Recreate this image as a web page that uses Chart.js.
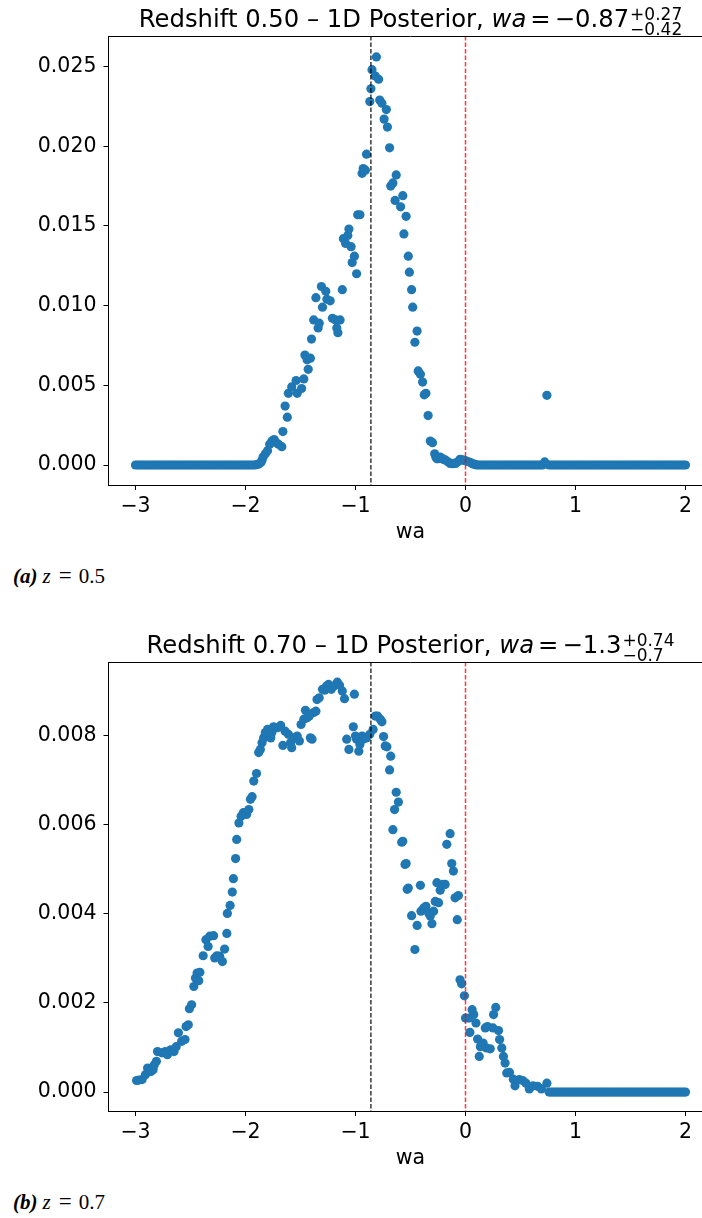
<!DOCTYPE html>
<html>
<head>
<meta charset="utf-8">
<script src="https://cdn.jsdelivr.net/npm/chart.js@4.4.1/dist/chart.umd.min.js"></script>
<style>
body { margin: 0; width: 702px; height: 1218px; overflow: hidden; background: #fff; position: relative; }
canvas { position: absolute; left: 0; }
#c1 { top: 0; }
#c2 { top: 626px; }
.cap { position: absolute; left: 13px; font-family: "Liberation Serif", serif; font-size: 21px; color: #000; white-space: nowrap; }
.cap .eq { margin: 0 7px 0 8px; font-size: 23px; }
.cap .z { margin-left: 5px; }
</style>
</head>
<body>
<canvas id="c1" width="730" height="545"></canvas>
<div class="cap" style="top:563px"><b><i>(a)</i></b><i class="z">z</i><span class="eq">=</span>0.5</div>
<canvas id="c2" width="730" height="545"></canvas>
<div class="cap" style="top:1189px"><b><i>(b)</i></b><i class="z">z</i><span class="eq">=</span>0.7</div>
<script>
// shared axis ticks
var xTicks = [-3, -2, -1, 0, 1, 2];
var yTicksA = [0, 0.005, 0.010, 0.015, 0.020, 0.025];
var yTicksB = [0, 0.002, 0.004, 0.006, 0.008];

// z = 0.5 : points off the zero baseline
var waA = [-1.90, -1.88, -1.86, -1.85, -1.84, -1.82, -1.80, -1.78, -1.76, -1.74, -1.72, -1.70, -1.67, -1.66, -1.64, -1.62, -1.61, -1.58, -1.54, -1.53,
  -1.49, -1.47, -1.46, -1.44, -1.43, -1.41, -1.40, -1.38, -1.36, -1.34, -1.33, -1.31, -1.30, -1.27, -1.26, -1.23, -1.21, -1.18, -1.17, -1.16,
  -1.14, -1.12, -1.11, -1.09, -1.07, -1.06, -1.04, -1.03, -1.01, -0.99, -0.98, -0.96, -0.94, -0.93, -0.91, -0.90, -0.87, -0.86, -0.85, -0.82,
  -0.81, -0.79, -0.78, -0.76, -0.74, -0.72, -0.71, -0.69, -0.68, -0.66, -0.64, -0.63, -0.59, -0.57, -0.56, -0.54, -0.52, -0.51, -0.49, -0.48,
  -0.46, -0.44, -0.43, -0.41, -0.39, -0.375, -0.36, -0.34, -0.32, -0.30, -0.28, -0.27, -0.26, -0.25, -0.23, -0.21, -0.20, -0.18, -0.16, -0.14,
  -0.12, -0.11, -0.09, -0.07, -0.05, -0.03, -0.02, 0.00, 0.02, 0.04, 0.06, 0.07, 0.09, 0.72, 0.74];
var postA = [0.00002, 0.00006, 0.00015, 0.0003, 0.0005, 0.0007, 0.0009, 0.0013, 0.0015, 0.0016, 0.0014, 0.0013, 0.00115, 0.0021, 0.0037, 0.0030, 0.0045, 0.0049, 0.0053, 0.0045,
  0.0048, 0.0054, 0.0069, 0.0066, 0.0060, 0.0067, 0.0079, 0.0091, 0.0105, 0.0086, 0.0089, 0.0112, 0.0099, 0.0109, 0.0104, 0.0103, 0.0092, 0.0091, 0.0086, 0.0083,
  0.0091, 0.0110, 0.0142, 0.0139, 0.0144, 0.0148, 0.0137, 0.0127, 0.0131, 0.0120, 0.0157, 0.0157, 0.0183, 0.0186, 0.0185, 0.0195, 0.0228, 0.0236, 0.0248, 0.0244,
  0.0256, 0.0242, 0.0229, 0.0227, 0.0217, 0.0223, 0.0212, 0.0199, 0.0175, 0.0177, 0.0166, 0.0182, 0.0162, 0.0169, 0.0145, 0.0156, 0.0131, 0.0121, 0.0110, 0.0099,
  0.0077, 0.0084, 0.0059, 0.0057, 0.0052, 0.0044, 0.0045, 0.0031, 0.0015, 0.0014, 0.0007, 0.0005, 0.0004, 0.0004, 0.0005, 0.0004, 0.00035, 0.0003, 0.0002, 0.0001,
  0.00008, 0.0001, 0.0001, 0.0002, 0.00036, 0.00032, 0.0003, 0.00027, 0.00022, 0.00017, 0.0001, 0.00006, 0.00004, 0.00019, 0.00437];
// z = 0.5 : points sitting on zero
var flatA = [-3.00, -2.98, -2.96, -2.94, -2.92, -2.90, -2.88, -2.86, -2.84, -2.82, -2.80, -2.78, -2.76, -2.74, -2.72, -2.70, -2.68, -2.66, -2.64, -2.62,
  -2.60, -2.58, -2.56, -2.54, -2.52, -2.50, -2.48, -2.46, -2.44, -2.42, -2.40, -2.38, -2.36, -2.34, -2.32, -2.30, -2.28, -2.26, -2.24, -2.22,
  -2.20, -2.18, -2.16, -2.14, -2.12, -2.10, -2.08, -2.06, -2.04, -2.02, -2.00, -1.98, -1.96, -1.94, -1.92,
  0.10, 0.12, 0.14, 0.16, 0.18, 0.20, 0.22, 0.24, 0.26, 0.28, 0.30, 0.32, 0.34, 0.36, 0.38, 0.40, 0.42, 0.44, 0.46, 0.48,
  0.50, 0.52, 0.54, 0.56, 0.58, 0.60, 0.62, 0.64, 0.66, 0.68, 0.70, 0.76, 0.78, 0.80, 0.82, 0.84, 0.86, 0.88, 0.90, 0.92,
  0.94, 0.96, 0.98, 1.00, 1.02, 1.04, 1.06, 1.08, 1.10, 1.12, 1.14, 1.16, 1.18, 1.20, 1.22, 1.24, 1.26, 1.28, 1.30, 1.32,
  1.34, 1.36, 1.38, 1.40, 1.42, 1.44, 1.46, 1.48, 1.50, 1.52, 1.54, 1.56, 1.58, 1.60, 1.62, 1.64, 1.66, 1.68, 1.70, 1.72,
  1.74, 1.76, 1.78, 1.80, 1.82, 1.84, 1.86, 1.88, 1.90, 1.92, 1.94, 1.96, 1.98, 2.00];

// z = 0.7 : points off the zero baseline
var waB = [-2.99, -2.97, -2.94, -2.91, -2.89, -2.86, -2.84, -2.83, -2.81, -2.80, -2.76, -2.73, -2.71, -2.68, -2.65, -2.63, -2.61, -2.58, -2.55, -2.54,
  -2.52, -2.51, -2.49, -2.47, -2.455, -2.44, -2.425, -2.415, -2.385, -2.36, -2.34, -2.325, -2.29, -2.28, -2.26, -2.235, -2.21, -2.19, -2.17, -2.165,
  -2.14, -2.12, -2.11, -2.09, -2.08, -2.06, -2.04, -2.02, -1.99, -1.97, -1.955, -1.94, -1.925, -1.90, -1.88, -1.865, -1.85, -1.835, -1.82, -1.80,
  -1.77, -1.76, -1.745, -1.71, -1.68, -1.66, -1.64, -1.61, -1.59, -1.58, -1.56, -1.53, -1.51, -1.495, -1.47, -1.455, -1.44, -1.42, -1.41, -1.395,
  -1.38, -1.36, -1.35, -1.33, -1.30, -1.28, -1.265, -1.245, -1.22, -1.20, -1.165, -1.145, -1.12, -1.10, -1.08, -1.06, -1.02, -1.01, -1.00, -0.99,
  -0.97, -0.96, -0.94, -0.93, -0.90, -0.87, -0.84, -0.82, -0.80, -0.775, -0.76, -0.745, -0.73, -0.715, -0.69, -0.68, -0.66, -0.645, -0.63, -0.61,
  -0.58, -0.57, -0.55, -0.54, -0.53, -0.52, -0.49, -0.46, -0.44, -0.41, -0.405, -0.38, -0.36, -0.335, -0.32, -0.305, -0.29, -0.275, -0.26, -0.245,
  -0.23, -0.205, -0.185, -0.17, -0.14, -0.125, -0.11, -0.095, -0.075, -0.065, -0.05, -0.035, -0.01, 0.00, 0.03, 0.04, 0.06, 0.075, 0.095, 0.11,
  0.125, 0.135, 0.16, 0.18, 0.19, 0.20, 0.225, 0.25, 0.255, 0.275, 0.30, 0.31, 0.33, 0.345, 0.36, 0.375, 0.40, 0.435, 0.45, 0.49,
  0.52, 0.55, 0.58, 0.615, 0.655, 0.69, 0.74];
var postB = [0.00026, 0.00027, 0.00028, 0.00039, 0.00054, 0.00046, 0.00050, 0.00061, 0.00069, 0.00091, 0.00088, 0.00091, 0.00084, 0.00095, 0.00091, 0.00102, 0.00133, 0.00114, 0.00118, 0.00147,
  0.00151, 0.00187, 0.00196, 0.00237, 0.00256, 0.00267, 0.00250, 0.00269, 0.00306, 0.00342, 0.00327, 0.00350, 0.00351, 0.00301, 0.00306, 0.00305, 0.00293, 0.00321, 0.00356, 0.00401,
  0.00419, 0.00449, 0.00479, 0.00524, 0.00567, 0.00604, 0.00619, 0.00627, 0.00623, 0.00634, 0.00657, 0.00663, 0.00698, 0.00715, 0.00762, 0.00769, 0.00784, 0.00795, 0.00807, 0.00814,
  0.00795, 0.00807, 0.00820, 0.00818, 0.00823, 0.00778, 0.00810, 0.00803, 0.00784, 0.00773, 0.00795, 0.00799, 0.00788, 0.00825, 0.00837, 0.00857, 0.00840, 0.00844, 0.00795, 0.00792,
  0.00852, 0.00855, 0.00881, 0.00885, 0.00904, 0.00902, 0.00911, 0.00915, 0.00904, 0.00911, 0.00920, 0.00913, 0.00900, 0.00883, 0.00792, 0.00769, 0.00820, 0.00893, 0.00799, 0.00792,
  0.00765, 0.00780, 0.00799, 0.00792, 0.00795, 0.00803, 0.00814, 0.00844, 0.00844, 0.00837, 0.00831, 0.00798, 0.00777, 0.00775, 0.00723, 0.00754, 0.00589, 0.00634, 0.00673, 0.00651,
  0.00561, 0.00563, 0.00511, 0.00513, 0.00455, 0.00458, 0.00396, 0.00320, 0.00374, 0.00464, 0.00406, 0.00413, 0.00417, 0.00402, 0.00395, 0.00378, 0.00406, 0.00428, 0.00470, 0.00425,
  0.00453, 0.00466, 0.00466, 0.00556, 0.00580, 0.00513, 0.00496, 0.00436, 0.00387, 0.00441, 0.00252, 0.00243, 0.00216, 0.00166, 0.00166, 0.00134, 0.00185, 0.00174, 0.00155, 0.00119,
  0.00080, 0.00102, 0.00110, 0.00144, 0.00099, 0.00147, 0.00097, 0.00144, 0.00174, 0.00190, 0.00138, 0.00118, 0.00099, 0.00080, 0.00065, 0.00043, 0.00044, 0.00029, 0.00014, 0.00028,
  0.00026, 0.00020, 0.00007, 0.00014, 0.00013, 0.00007, 0.00020];
// z = 0.7 : points sitting on zero
var flatB = [0.76, 0.78, 0.80, 0.82, 0.84, 0.86, 0.88, 0.90, 0.92, 0.94, 0.96, 0.98, 1.00, 1.02, 1.04, 1.06, 1.08, 1.10, 1.12, 1.14,
  1.16, 1.18, 1.20, 1.22, 1.24, 1.26, 1.28, 1.30, 1.32, 1.34, 1.36, 1.38, 1.40, 1.42, 1.44, 1.46, 1.48, 1.50, 1.52, 1.54,
  1.56, 1.58, 1.60, 1.62, 1.64, 1.66, 1.68, 1.70, 1.72, 1.74, 1.76, 1.78, 1.80, 1.82, 1.84, 1.86, 1.88, 1.90, 1.92, 1.94,
  1.96, 1.98, 2.00];

var FONT = '"DejaVu Sans"';
var BLUE = '#1f77b4';

function fmtX(v) {
	return v < 0 ? '\u2212' + Math.abs(v) : String(v);
}

// matplotlib style title with stacked super/subscript
var titlePlugin = {
	id: 'mplTitle',
	afterDraw: function(chart, args, o) {
		var ctx = chart.ctx, a = chart.chartArea;
		var big = '24.3px ' + FONT, ital = 'italic 24.3px ' + FONT, small = '17px ' + FONT;
		ctx.save();
		ctx.fillStyle = '#000';
		ctx.textBaseline = 'alphabetic';
		ctx.textAlign = 'left';
		ctx.font = big;
		var w1 = ctx.measureText(o.main).width;
		var wEq = ctx.measureText('=').width;
		var wVal = ctx.measureText(o.value).width;
		ctx.font = ital;
		var wWa = ctx.measureText('wa').width;
		ctx.font = small;
		var wScr = Math.max(ctx.measureText(o.sup).width, ctx.measureText(o.sub).width);
		var gap = 4;
		var total = w1 + wWa + gap + wEq + gap + wVal + 1 + wScr;
		var x = (a.left + a.right) / 2 - total / 2;
		var base = a.top - 9.3;
		ctx.font = big; ctx.fillText(o.main, x, base); x += w1;
		ctx.font = ital; ctx.fillText('wa', x, base); x += wWa + gap;
		ctx.font = big; ctx.fillText('=', x, base); x += wEq + gap;
		ctx.fillText(o.value, x, base); x += wVal + 1;
		ctx.font = small;
		ctx.fillText(o.sup, x, base - 7);
		ctx.fillText(o.sub, x, base + 8);
		ctx.restore();
	}
};

// axvlines and the top spine
var linesPlugin = {
	id: 'vlines',
	afterDatasetsDraw: function(chart, args, o) {
		var ctx = chart.ctx, a = chart.chartArea, xs = chart.scales.x;
		ctx.save();
		ctx.lineWidth = 1.5;
		ctx.setLineDash([4.5, 2]);
		o.lines.forEach(function(l) {
			var px = xs.getPixelForValue(l.v);
			ctx.strokeStyle = l.c;
			ctx.beginPath();
			ctx.moveTo(px, a.top);
			ctx.lineTo(px, a.bottom);
			ctx.stroke();
		});
		ctx.setLineDash([]);
		ctx.lineWidth = 1;
		ctx.strokeStyle = '#000';
		ctx.beginPath();
		ctx.moveTo(a.left, a.top + 0.5);
		ctx.lineTo(a.right, a.top + 0.5);
		ctx.stroke();
		ctx.restore();
	}
};

function buildPoints(wa, post, flat) {
	var pts = [];
	for (var i = 0; i < wa.length; i++) pts.push({x: wa[i], y: post[i]});
	for (var j = 0; j < flat.length; j++) pts.push({x: flat[j], y: 0});
	return pts;
}

function makeChart(id, pts, yMin, yMax, yTicks, title) {
	new Chart(document.getElementById(id), {
		type: 'scatter',
		data: {
			datasets: [{
				data: pts,
				backgroundColor: BLUE,
				borderWidth: 0,
				pointRadius: 4.6,
				pointHoverRadius: 4.6
			}]
		},
		plugins: [linesPlugin, titlePlugin],
		options: {
			responsive: false,
			animation: false,
			events: [],
			layout: { padding: { top: 36, right: 17, left: 0, bottom: 0 } },
			plugins: {
				legend: { display: false },
				tooltip: { enabled: false },
				vlines: { lines: [{v: -0.86, c: 'rgba(0,0,0,0.78)'}, {v: 0, c: 'rgba(255,0,0,0.78)'}] },
				mplTitle: title
			},
			scales: {
				x: {
					type: 'linear',
					min: -3.25,
					max: 2.25,
					afterBuildTicks: function(s) { s.ticks = xTicks.map(function(v) { return {value: v}; }); },
					afterFit: function(s) { s.height = 59.5; },
					grid: { display: true, drawOnChartArea: false, drawTicks: true, tickLength: 4.5, tickColor: '#000', tickWidth: 1 },
					border: { display: true, color: '#000', width: 1 },
					ticks: {
						autoSkip: false, maxRotation: 0, padding: 4, color: '#000',
						font: { family: 'DejaVu Sans', size: 20.5 },
						callback: function(v) { return fmtX(v); }
					},
					title: {
						display: true, text: 'wa', color: '#000',
						font: { family: 'DejaVu Sans', size: 20.5, lineHeight: 1.2 },
						padding: { top: 0, bottom: 0 }
					}
				},
				y: {
					type: 'linear',
					min: yMin,
					max: yMax,
					afterBuildTicks: function(s) { s.ticks = yTicks.map(function(v) { return {value: v}; }); },
					afterFit: function(s) { s.width = 108; },
					grid: { display: true, drawOnChartArea: false, drawTicks: true, tickLength: 4.5, tickColor: '#000', tickWidth: 1 },
					border: { display: true, color: '#000', width: 1 },
					ticks: {
						autoSkip: false, padding: 7, color: '#000',
						font: { family: 'DejaVu Sans', size: 20.5 },
						callback: function(v) { return v.toFixed(3); }
					}
				}
			}
		}
	});
}

makeChart('c1', buildPoints(waA, postA, flatA), -0.001286, 0.026915, yTicksA,
	{ main: 'Redshift 0.50 \u2013 1D Posterior, ', value: '\u22120.87', sup: '+0.27', sub: '\u22120.42' });
makeChart('c2', buildPoints(waB, postB, flatB), -0.000436, 0.009653, yTicksB,
	{ main: 'Redshift 0.70 \u2013 1D Posterior, ', value: '\u22121.3', sup: '+0.74', sub: '\u22120.7' });
</script>
</body>
</html>
